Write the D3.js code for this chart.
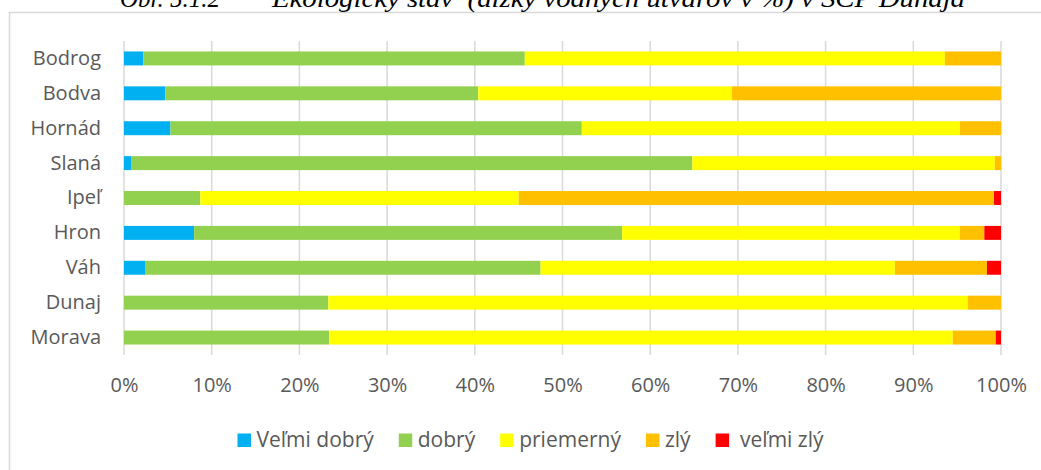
<!DOCTYPE html>
<html>
<head>
<meta charset="utf-8">
<script src="https://cdn.jsdelivr.net/npm/d3@7"></script>
<style>
  body { margin: 0; background: #fff; }
  svg text { font-family: "Open Sans", sans-serif; fill: #595959; }
</style>
</head>
<body>
<div id="chart"></div>
<script>
const width = 1041;
const height = 470;

// categories top to bottom
const rivers = ["Bodrog", "Bodva", "Hornád", "Slaná", "Ipeľ", "Hron", "Váh", "Dunaj", "Morava"];
const seriesNames = ["Veľmi dobrý", "dobrý", "priemerný", "zlý", " veľmi zlý"];
const seriesColors = ["#00B0F0", "#92D050", "#FFFF00", "#FFC000", "#FF0000"];

// % of water body length per class
const velmiDobry = [2.2, 4.7, 5.3, 0.8, 0.0, 8.0, 2.4, 0.0, 0.0];
const dobry      = [43.5, 35.7, 46.9, 64.0, 8.7, 48.8, 45.1, 23.3, 23.4];
const priemerny  = [47.9, 28.9, 43.1, 34.5, 36.3, 38.5, 40.4, 72.9, 71.1];
const zly        = [6.4, 30.7, 4.7, 0.7, 54.2, 2.8, 10.5, 3.8, 4.9];
const velmiZly   = [0.0, 0.0, 0.0, 0.0, 0.8, 1.9, 1.6, 0.0, 0.6];

const tickValues = [0, 0.1, 0.2, 0.3, 0.4, 0.5, 0.6, 0.7, 0.8, 0.9, 1];

const titleLeft = "Obr. 5.1.2";
const titleRight = "Ekologický stav  (dĺžky vodných útvarov v %) v SČP Dunaja";

const rows = rivers.map((r, i) => ({
    river: r,
    s0: velmiDobry[i], s1: dobry[i], s2: priemerny[i], s3: zly[i], s4: velmiZly[i]
}));
const keys = ["s0", "s1", "s2", "s3", "s4"];

// normalise each row to 100 %
const stacked = d3.stack().keys(keys).offset(d3.stackOffsetExpand)(rows);

const svg = d3.select("#chart")
    .append("svg")
    .attr("width", width)
    .attr("height", height);

// chart frame
svg.append("rect")
    .attr("x", 9.5)
    .attr("y", 12.5)
    .attr("width", 1040)
    .attr("height", 470)
    .attr("fill", "none")
    .attr("stroke", "#d9d9d9")
    .attr("stroke-width", 1.5);

// title, only lower half visible
svg.append("text")
    .attr("x", 120)
    .attr("y", 7)
    .style("font-family", "'Liberation Serif', 'Times New Roman', serif")
    .style("font-style", "italic")
    .style("font-size", "25px")
    .style("fill", "#000")
    .text(titleLeft);
svg.append("text")
    .attr("x", 272)
    .attr("y", 7)
    .attr("textLength", 693)
    .attr("lengthAdjust", "spacingAndGlyphs")
    .style("font-family", "'Liberation Serif', 'Times New Roman', serif")
    .style("font-style", "italic")
    .style("font-size", "25px")
    .style("fill", "#000")
    .style("white-space", "pre")
    .text(titleRight);

const x = d3.scaleLinear().domain([0, 1]).range([124, 1001]);
const y = d3.scaleBand().domain(rivers).range([41, 355]).paddingInner(0.6).paddingOuter(0.3);

// vertical gridlines
svg.append("g")
    .selectAll("line")
    .data(tickValues)
    .enter()
    .append("line")
    .attr("x1", d => x(d))
    .attr("x2", d => x(d))
    .attr("y1", 41)
    .attr("y2", 355)
    .attr("stroke", "#d9d9d9")
    .attr("stroke-width", 1.5);

// bars
svg.append("g")
    .selectAll("g")
    .data(stacked)
    .enter()
    .append("g")
    .attr("fill", (d, i) => seriesColors[i])
    .selectAll("rect")
    .data(d => d)
    .enter()
    .append("rect")
    .attr("x", d => x(d[0]))
    .attr("y", d => y(d.data.river))
    .attr("width", d => x(d[1]) - x(d[0]))
    .attr("height", y.bandwidth());

// x axis labels
const xAxis = svg.append("g")
    .attr("transform", "translate(0,355)")
    .call(d3.axisBottom(x).tickValues(tickValues).tickFormat(d3.format(".0%")).tickSize(0).tickPadding(23));
xAxis.select(".domain").remove();
xAxis.selectAll("text")
    .style("font-size", "20px")
    .style("fill", "#595959");

// category labels
const yAxis = svg.append("g")
    .attr("transform", "translate(101,0)")
    .call(d3.axisLeft(y).tickSize(0).tickPadding(0));
yAxis.select(".domain").remove();
yAxis.selectAll("text")
    .style("font-size", "20px")
    .style("fill", "#595959");

// legend
const legend = svg.append("g").attr("transform", "translate(237.5,433.5)");
let lx = 0;
seriesNames.forEach((name, i) => {
    const item = legend.append("g").attr("transform", `translate(${lx},0)`);
    item.append("rect")
        .attr("width", 13.5)
        .attr("height", 13.5)
        .attr("fill", seriesColors[i]);
    const t = item.append("text")
        .attr("x", 19)
        .attr("y", 13)
        .style("font-size", "21px")
        .style("white-space", "pre")
        .text(name);
    lx += 19 + t.node().getComputedTextLength() + 25;
});
</script>
</body>
</html>
